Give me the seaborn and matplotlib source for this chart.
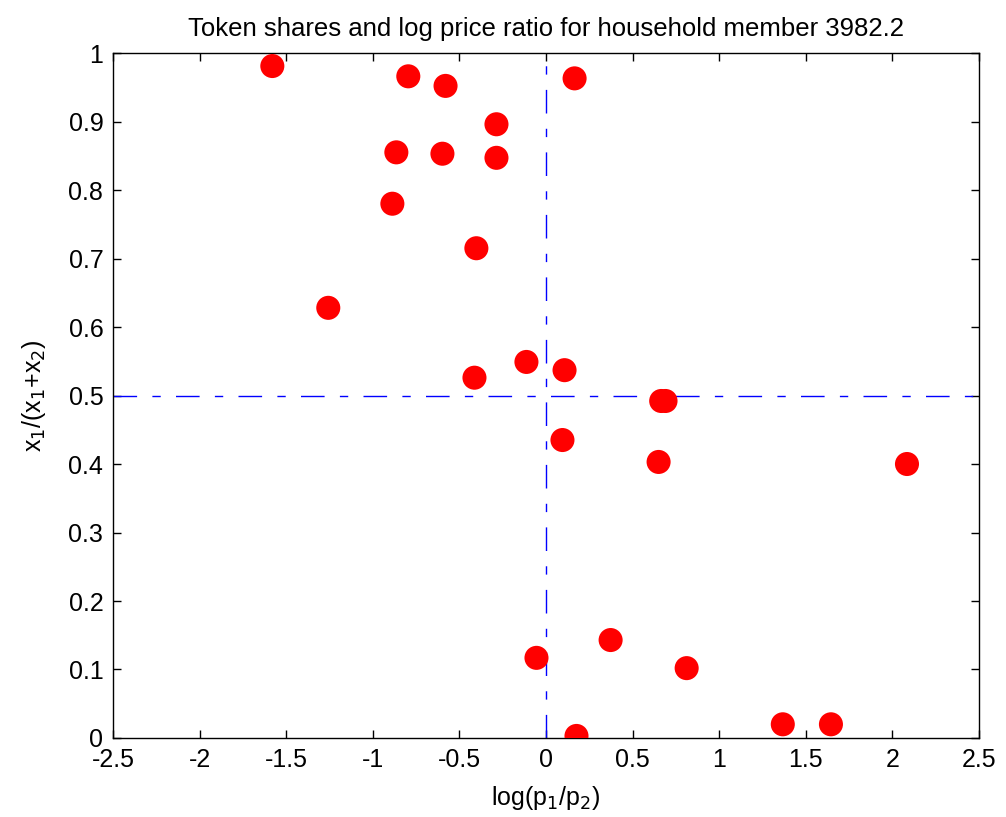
import matplotlib
matplotlib.use('Agg')
import matplotlib.pyplot as plt
import seaborn as sns
import pandas as pd

# log price ratio and token share
log_price_ratio = [-1.58, -0.795, -0.58, 0.165, -0.286, -0.864, -0.598, -0.286,
                   -0.887, -0.402, -1.257, -0.113, 0.107, -0.413, 0.665, 0.69,
                   0.095, 0.65, 2.084, 0.373, -0.055, 0.812, 1.367, 1.645, 0.176]
token_share = [0.981, 0.966, 0.952, 0.963, 0.896, 0.855, 0.853, 0.847,
               0.780, 0.715, 0.628, 0.549, 0.537, 0.526, 0.492, 0.492,
               0.435, 0.403, 0.400, 0.143, 0.117, 0.102, 0.020, 0.020, 0.003]

x_ticks = [-2.5, -2, -1.5, -1, -0.5, 0, 0.5, 1, 1.5, 2, 2.5]
x_labels = ['-2.5', '-2', '-1.5', '-1', '-0.5', '0', '0.5', '1', '1.5', '2', '2.5']
y_ticks = [0, 0.1, 0.2, 0.3, 0.4, 0.5, 0.6, 0.7, 0.8, 0.9, 1]
y_labels = ['0', '0.1', '0.2', '0.3', '0.4', '0.5', '0.6', '0.7', '0.8', '0.9', '1']

df = pd.DataFrame({'lpr': log_price_ratio, 'share': token_share})

sns.set_style('white')
plt.rcParams['font.family'] = ['Liberation Sans', 'DejaVu Sans']
plt.rcParams['text.color'] = 'black'
plt.rcParams['axes.labelcolor'] = 'black'
plt.rcParams['xtick.color'] = 'black'
plt.rcParams['ytick.color'] = 'black'

fig = plt.figure(figsize=(10.06, 8.17), dpi=100)
ax = fig.add_axes([0.1123, 0.0967, 0.8609, 0.8384])

sns.scatterplot(data=df, x='lpr', y='share', ax=ax, color='#ff0000',
                s=300, edgecolor='none', linewidth=0, zorder=3)

dashdot = (0, (17, 11, 6, 11))
ax.axvline(0, color='#0000ff', linestyle=dashdot, linewidth=1, zorder=2)
ax.axhline(0.5, color='#0000ff', linestyle=dashdot, linewidth=1, zorder=2)

ax.set_xlim(-2.5, 2.5)
ax.set_ylim(0, 1)
ax.set_xticks(x_ticks)
ax.set_xticklabels(x_labels)
ax.set_yticks(y_ticks)
ax.set_yticklabels(y_labels)
ax.tick_params(direction='in', length=6, width=1, labelsize=18, colors='black',
               top=True, right=True, bottom=True, left=True, pad=7)
for sp in ax.spines.values():
    sp.set_color('black')
    sp.set_linewidth(1)

ax.set_xlabel('log(p$_1$/p$_2$)', fontsize=18, labelpad=9)
ax.set_ylabel('x$_1$/(x$_1$+x$_2$)', fontsize=18, labelpad=15)
ax.set_title('Token shares and log price ratio for household member 3982.2',
             fontsize=18.5, pad=12)

fig.savefig('out.png', dpi=100)
